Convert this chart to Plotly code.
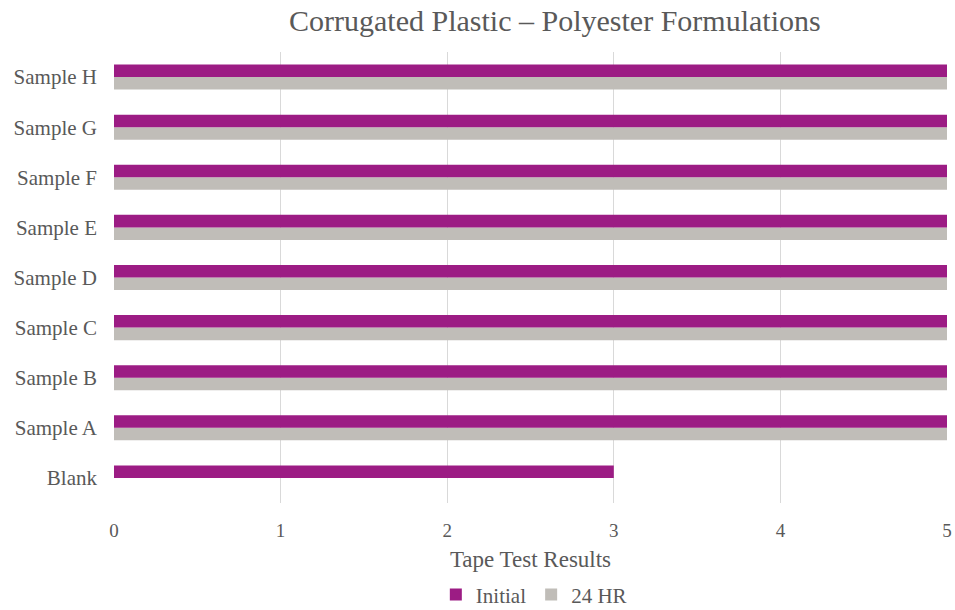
import plotly.graph_objects as go

categories = ["Blank", "Sample A", "Sample B", "Sample C", "Sample D",
              "Sample E", "Sample F", "Sample G", "Sample H"]
initial = [3, 5, 5, 5, 5, 5, 5, 5, 5]
hr24 = [0, 5, 5, 5, 5, 5, 5, 5, 5]
x_ticks = [0, 1, 2, 3, 4, 5]

PURPLE = "#9C1C84"
GRAY = "#C0BDB8"
TEXT = "#595959"
FONT = "Liberation Serif, Times New Roman, serif"

fig = go.Figure()
# Added first so it sits below "Initial" within each group
fig.add_trace(go.Bar(y=categories, x=hr24, name="24 HR", orientation="h",
                     marker=dict(color=GRAY, line=dict(width=0)), legendrank=2))
fig.add_trace(go.Bar(y=categories, x=initial, name="Initial", orientation="h",
                     marker=dict(color=PURPLE, line=dict(width=0)), legendrank=1))

fig.update_layout(
    width=955, height=610,
    margin=dict(l=114, r=8, t=52, b=107, autoexpand=False),
    paper_bgcolor="white", plot_bgcolor="white",
    barmode="group", bargap=0.5, bargroupgap=0,
    font=dict(family=FONT, color=TEXT, size=19),
    title=dict(text="Corrugated Plastic – Polyester Formulations",
               x=0.581, xanchor="center", y=0.967, yanchor="middle",
               font=dict(family=FONT, size=30, color=TEXT)),
    xaxis=dict(range=[0, 5], tickvals=x_ticks, showgrid=True,
               gridcolor="#D9D9D9", gridwidth=1, zeroline=False,
               showline=False, ticks="", ticklabelstandoff=14,
               automargin=False,
               tickfont=dict(size=19, color=TEXT),
               title=dict(text="Tape Test Results", standoff=10,
                          font=dict(size=23, color=TEXT))),
    yaxis=dict(categoryorder="array", categoryarray=categories,
               showgrid=False, zeroline=False, showline=False, ticks="",
               automargin=False,
               ticklabelstandoff=16, tickfont=dict(size=21, color=TEXT)),
    legend=dict(orientation="h", x=0.504, xanchor="center",
                yref="container", y=0.025, yanchor="middle",
                font=dict(size=21, color=TEXT),
                itemwidth=30, tracegroupgap=0),
)

fig.write_html("out.html")
